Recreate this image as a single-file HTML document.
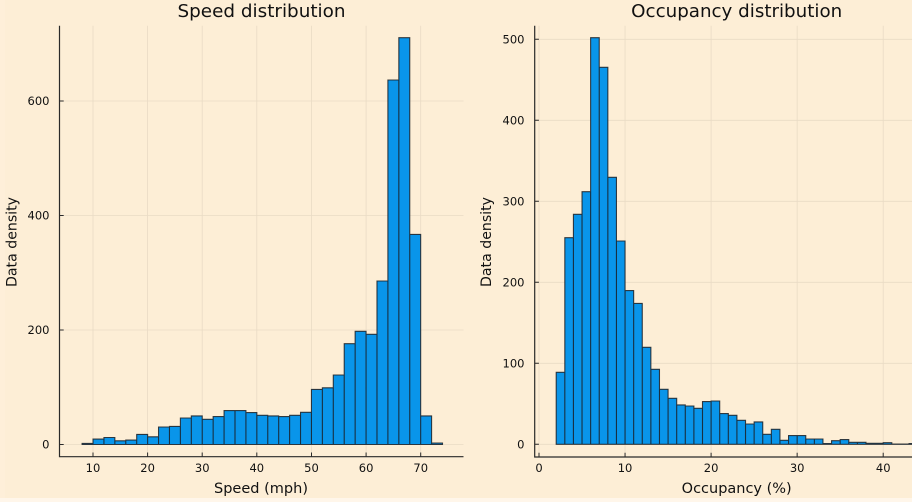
<!DOCTYPE html>
<html><head><meta charset="utf-8"><style>
html,body{margin:0;padding:0;background:#fdeed6;}
svg{display:block;}
text{font-family:"DejaVu Sans","Liberation Sans",sans-serif;fill:#111;}
</style></head><body>
<svg width="912" height="502" viewBox="0 0 912 502" xmlns="http://www.w3.org/2000/svg">
<rect x="0" y="0" width="912" height="502" fill="#fdeed6"/>
<rect x="0" y="498" width="912" height="4" fill="#fff6ea"/>
<rect x="0" y="0" width="5" height="498" fill="#feefd9"/>

<path stroke="#000" stroke-opacity="0.08" stroke-width="0.8" fill="none"
d="M93 25.7V456.7M147.6 25.7V456.7M202.2 25.7V456.7M256.8 25.7V456.7M311.5 25.7V456.7M366.1 25.7V456.7M420.7 25.7V456.7
M59.5 444.5H463.5M59.5 330H463.5M59.5 215.5H463.5M59.5 101H463.5
M539 25.7V456.7M625.05 25.7V456.7M711.1 25.7V456.7M797.15 25.7V456.7M883.2 25.7V456.7
M534.7 444.3H912M534.7 363.3H912M534.7 282.3H912M534.7 201.3H912M534.7 120.3H912M534.7 39.3H912"/>

<path fill="#0995ea" stroke="#1b1f24" stroke-opacity="0.85" stroke-width="1.1"
d="M82.09 444.5V443.4h10.92V444.5z M93.01 444.5V439.1h10.92V444.5z M103.93 444.5V437.5h10.92V444.5z
M114.85 444.5V440.8h10.92V444.5z M125.78 444.5V440.1h10.92V444.5z M136.7 444.5V434.4h10.92V444.5z
M147.62 444.5V436.8h10.92V444.5z M158.54 444.5V427h10.92V444.5z M169.46 444.5V426.4h10.92V444.5z
M180.39 444.5V418h10.92V444.5z M191.31 444.5V415.9h10.92V444.5z M202.23 444.5V419.3h10.92V444.5z
M213.15 444.5V416.6h10.92V444.5z M224.07 444.5V410.6h10.92V444.5z M235 444.5V410.6h10.92V444.5z
M245.92 444.5V412.6h10.92V444.5z M256.84 444.5V415.3h10.92V444.5z M267.76 444.5V415.9h10.92V444.5z
M278.68 444.5V416.6h10.92V444.5z M289.61 444.5V415.3h10.92V444.5z M300.53 444.5V412.3h10.92V444.5z
M311.45 444.5V389.4h10.92V444.5z M322.37 444.5V387.8h10.92V444.5z M333.29 444.5V375h10.92V444.5z
M344.22 444.5V343.7h10.92V444.5z M355.14 444.5V331.3h10.92V444.5z M366.06 444.5V334.3h10.92V444.5z
M376.98 444.5V281h10.92V444.5z M387.9 444.5V80h10.92V444.5z M398.83 444.5V37.7h10.92V444.5z
M409.75 444.5V234.4h10.92V444.5z M420.67 444.5V415.9h10.92V444.5z M431.59 444.5V443.1h10.92V444.5z"/>

<path fill="#0995ea" stroke="#1b1f24" stroke-opacity="0.85" stroke-width="1.1"
d="M556.21 444.3V372.3h8.605V444.3z M564.82 444.3V237.7h8.605V444.3z M573.42 444.3V214.3h8.605V444.3z
M582.03 444.3V191.7h8.605V444.3z M590.63 444.3V37.7h8.605V444.3z M599.24 444.3V67.3h8.605V444.3z
M607.84 444.3V177.3h8.605V444.3z M616.45 444.3V241h8.605V444.3z M625.05 444.3V290.6h8.605V444.3z
M633.66 444.3V303.4h8.605V444.3z M642.26 444.3V347.3h8.605V444.3z M650.87 444.3V369.3h8.605V444.3z
M659.47 444.3V389.3h8.605V444.3z M668.08 444.3V398.3h8.605V444.3z M676.68 444.3V404.9h8.605V444.3z
M685.29 444.3V406h8.605V444.3z M693.89 444.3V408.3h8.605V444.3z M702.5 444.3V401.6h8.605V444.3z
M711.1 444.3V401h8.605V444.3z M719.71 444.3V413.6h8.605V444.3z M728.31 444.3V415.3h8.605V444.3z
M736.92 444.3V420.3h8.605V444.3z M745.52 444.3V424h8.605V444.3z M754.13 444.3V421.9h8.605V444.3z
M762.73 444.3V434.3h8.605V444.3z M771.34 444.3V429.3h8.605V444.3z M779.94 444.3V440.3h8.605V444.3z
M788.55 444.3V435.6h8.605V444.3z M797.15 444.3V435.6h8.605V444.3z M805.76 444.3V439h8.605V444.3z
M814.36 444.3V439h8.605V444.3z M822.97 444.3V443.5h8.605V444.3z M831.57 444.3V440.7h8.605V444.3z
M840.18 444.3V439.6h8.605V444.3z M848.78 444.3V442.3h8.605V444.3z M857.39 444.3V442.3h8.605V444.3z
M865.99 444.3V443.3h8.605V444.3z M874.6 444.3V443.3h8.605V444.3z M883.2 444.3V442.7h8.605V444.3z
M891.81 444.3V444h8.605V444.3z M900.41 444.3V444h8.605V444.3z M909.02 444.3V443.5h8.605V444.3z"/>

<path stroke="#2a2a2a" stroke-width="1.2" fill="none"
d="M59.5 25.7V457.3M58.9 456.7H463.5M534.7 25.7V457.3M534.1 457H912"/>
<path stroke="#2a2a2a" stroke-width="1" fill="none"
d="M93 456.7v-4.2M147.6 456.7v-4.2M202.2 456.7v-4.2M256.8 456.7v-4.2M311.5 456.7v-4.2M366.1 456.7v-4.2M420.7 456.7v-4.2
M59.5 444.5h4.2M59.5 330h4.2M59.5 215.5h4.2M59.5 101h4.2
M539 457v-4.2M625.05 457v-4.2M711.1 457v-4.2M797.15 457v-4.2M883.2 457v-4.2
M534.7 444.3h4.2M534.7 363.3h4.2M534.7 282.3h4.2M534.7 201.3h4.2M534.7 120.3h4.2M534.7 39.3h4.2"/>

<g font-size="11.5" text-anchor="middle">
<text x="93" y="472">10</text><text x="147.6" y="472">20</text><text x="202.2" y="472">30</text>
<text x="256.8" y="472">40</text><text x="311.5" y="472">50</text><text x="366.1" y="472">60</text>
<text x="420.7" y="472">70</text>
<text x="539" y="472">0</text><text x="625.05" y="472">10</text><text x="711.1" y="472">20</text>
<text x="797.15" y="472">30</text><text x="883.2" y="472">40</text>
</g>
<g font-size="11.5" text-anchor="end">
<text x="49.5" y="448.5">0</text><text x="49.5" y="334">200</text>
<text x="49.5" y="219.5">400</text><text x="49.5" y="105">600</text>
<text x="524.5" y="448.3">0</text><text x="524.5" y="367.3">100</text>
<text x="524.5" y="286.3">200</text><text x="524.5" y="205.3">300</text>
<text x="524.5" y="124.3">400</text><text x="524.5" y="43.3">500</text>
</g>

<text x="261.5" y="17" font-size="18" text-anchor="middle" textLength="168" lengthAdjust="spacingAndGlyphs">Speed distribution</text>
<text x="736.7" y="17" font-size="18" text-anchor="middle" textLength="211" lengthAdjust="spacingAndGlyphs">Occupancy distribution</text>
<text x="261" y="493" font-size="14" text-anchor="middle" textLength="94" lengthAdjust="spacingAndGlyphs">Speed (mph)</text>
<text x="736.7" y="493" font-size="14" text-anchor="middle" textLength="110" lengthAdjust="spacingAndGlyphs">Occupancy (%)</text>
<text transform="translate(16.5,242) rotate(-90)" font-size="14" text-anchor="middle" textLength="90" lengthAdjust="spacingAndGlyphs">Data density</text>
<text transform="translate(491,242) rotate(-90)" font-size="14" text-anchor="middle" textLength="90" lengthAdjust="spacingAndGlyphs">Data density</text>
</svg>
</body></html>
